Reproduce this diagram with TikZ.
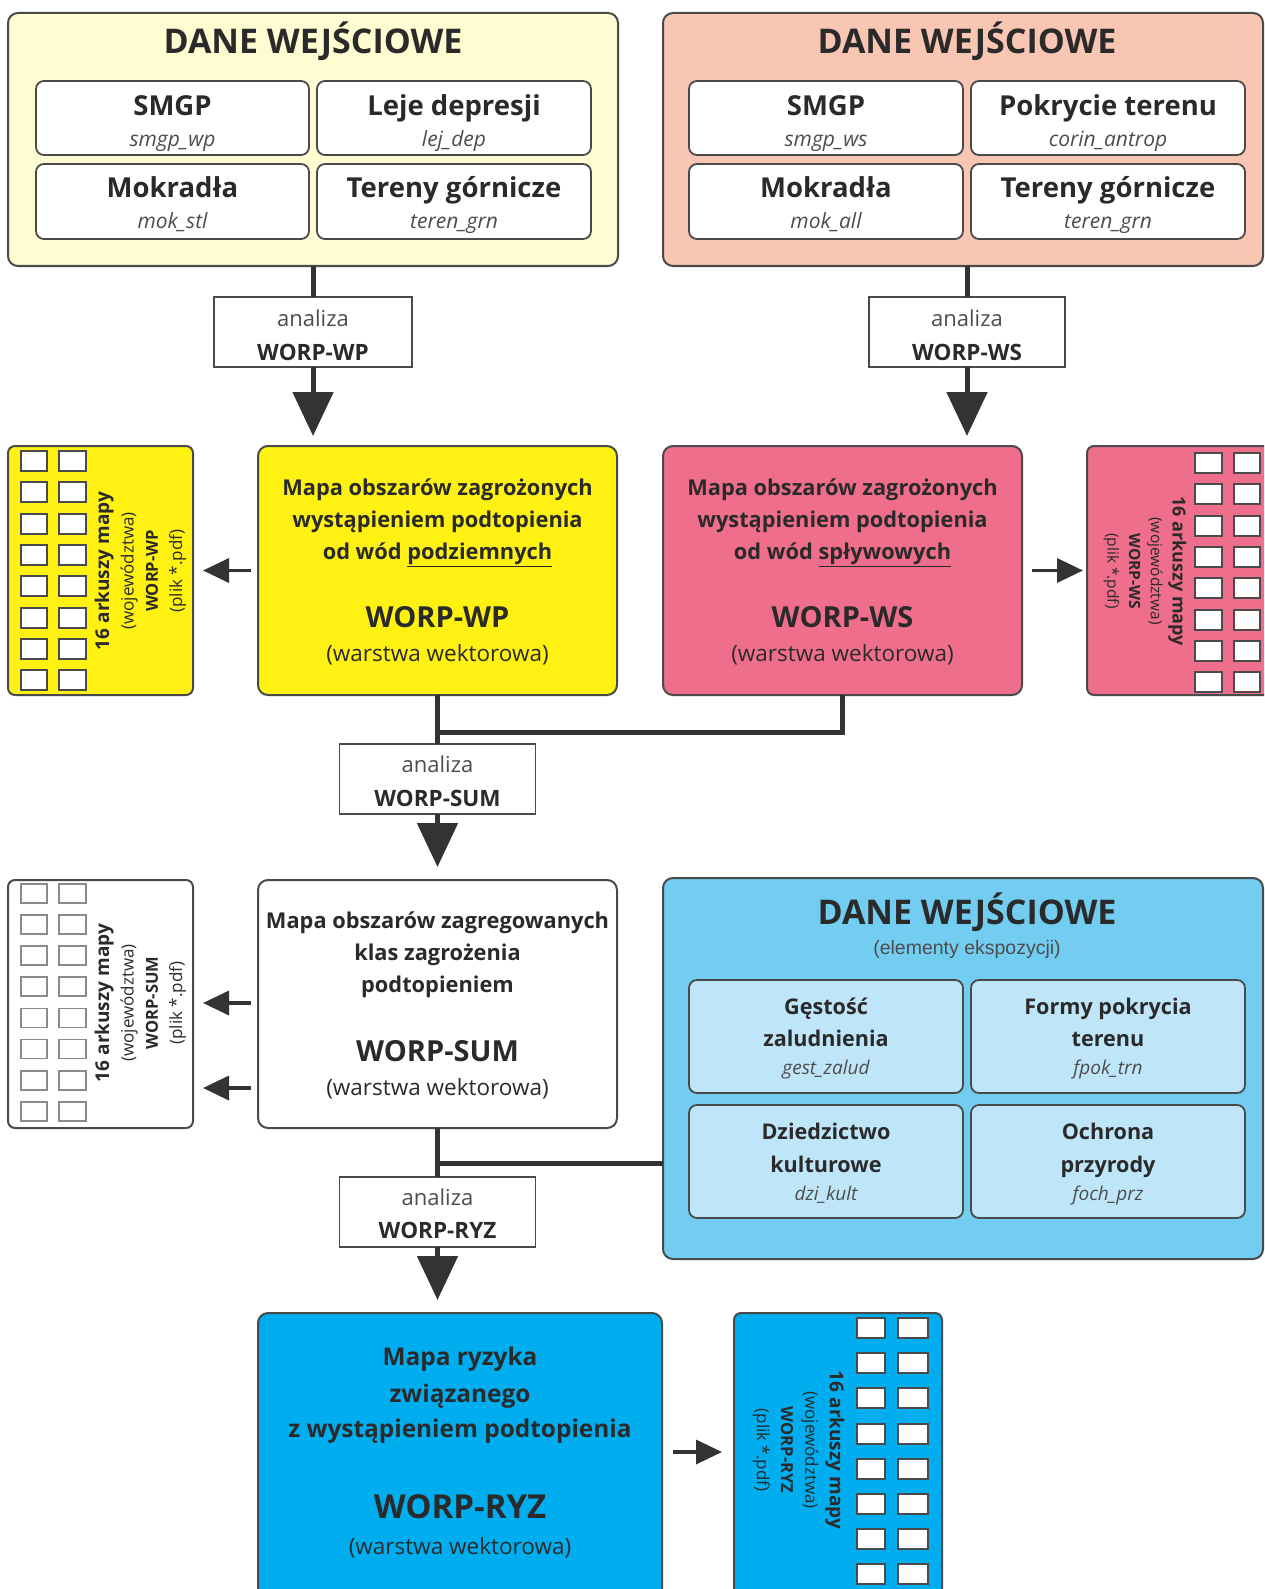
\documentclass[tikz,border=0pt]{standalone}
\usepackage{fontspec}
\setmainfont{Open Sans}
\newfontfamily\arialf{Liberation Sans}
\usetikzlibrary{arrows.meta}
\definecolor{bordc}{HTML}{4A4A4A}
\definecolor{lnc}{HTML}{333333}
\definecolor{ltyel}{HTML}{FFFCD2}
\definecolor{salmon}{HTML}{F9C6B3}
\definecolor{yel}{HTML}{FFF212}
\definecolor{pinkc}{HTML}{EF6E8B}
\definecolor{ltblue}{HTML}{72CDF1}
\definecolor{cellblue}{HTML}{BFE6F8}
\definecolor{ryzblue}{HTML}{00AEEF}
\definecolor{txt}{HTML}{2A2A2A}
\definecolor{subc}{HTML}{4D4D4D}
\definecolor{sqgray}{HTML}{8A8A8A}
\tikzset{
  panel/.style={draw=bordc,line width=2pt,rounded corners=10pt,inner sep=0pt,outer sep=0pt,anchor=north west},
  cellbox/.style={panel,rounded corners=8pt,line width=1.8pt},
  anbox/.style={draw=bordc,line width=1.6pt,fill=white,inner sep=0pt,outer sep=0pt,anchor=north west},
  sheetbox/.style={panel,rounded corners=7pt},
  sq/.style={draw=bordc,line width=2pt,fill=white},
  sqg/.style={draw=sqgray,line width=1.8pt,fill=white},
  tx/.style={anchor=mid,inner sep=0pt,text=txt},
  ftitle/.style={tx,yshift=-10pt,font=\fontsize{34}{38}\selectfont\bfseries},
  fcell/.style={tx,yshift=-8pt,font=\fontsize{27.5}{30}\selectfont\bfseries},
  fcellb/.style={tx,yshift=-6.5pt,font=\fontsize{21.6}{26}\selectfont\bfseries},
  fsub/.style={tx,yshift=-6pt,text=subc,font=\fontsize{21}{24}\selectfont\itshape},
  fsubb/.style={tx,yshift=-5.5pt,text=subc,font=\fontsize{19}{22}\selectfont\itshape},
  fan/.style={tx,yshift=-6pt,text=subc,font=\fontsize{22}{26}\selectfont},
  fanb/.style={tx,yshift=-6.5pt,font=\fontsize{22.5}{26}\selectfont\bfseries},
  fmain/.style={tx,yshift=-6.5pt,font=\fontsize{21.8}{26}\selectfont\bfseries},
  fbig/.style={tx,yshift=-8.5pt,font=\fontsize{29}{34}\selectfont\bfseries},
  fwarst/.style={tx,yshift=-6pt,font=\fontsize{22.5}{26}\selectfont},
  fryz/.style={tx,yshift=-7pt,font=\fontsize{24.4}{28}\selectfont\bfseries},
  fryzbig/.style={tx,yshift=-10pt,font=\fontsize{33}{38}\selectfont\bfseries},
  fsheet/.style={inner sep=0pt,text=txt,align=center,font=\fontsize{17}{24.3}\selectfont},
  conn/.style={draw=lnc,line width=5pt},
  bigarrow/.style={conn,-{Triangle[width=40pt,length=44pt]}},
  smallarrow/.style={draw=lnc,line width=3.5pt,-{Triangle[width=24pt,length=26pt]}}
}
\newcommand\sheethead{\fontsize{19}{24.3}\selectfont\bfseries}
\newcommand\sheetworp{\fontsize{16.5}{24.3}\selectfont\bfseries}
\begin{document}
\begin{tikzpicture}[x=1pt,y=-1pt]
\useasboundingbox (0,0) rectangle (1264,1589);
\fill[white] (0,0) rectangle (1264,1589);
\clip (0,0) rectangle (1264,1589);

% ---------- top-left input panel ----------
\node[panel,fill=ltyel,minimum width=610pt,minimum height=253pt] (inWP) at (8,13) {};
\node[ftitle] (tWP) at (313,41) {DANE WEJŚCIOWE};
\node[cellbox,fill=white,minimum width=273pt,minimum height=74pt] (c1) at (36,81) {};
\node[cellbox,fill=white,minimum width=274pt,minimum height=74pt] (c2) at (317,81) {};
\node[cellbox,fill=white,minimum width=273pt,minimum height=75pt] (c3) at (36,164) {};
\node[cellbox,fill=white,minimum width=274pt,minimum height=75pt] (c4) at (317,164) {};
\node[fcell] (c1a) at (172.5,105) {SMGP};
\node[fsub]  (c1b) at (172.5,138) {smgp\_wp};
\node[fcell] (c2a) at (454,105) {Leje depresji};
\node[fsub]  (c2b) at (454,138) {lej\_dep};
\node[fcell] (c3a) at (172.5,187) {Mokradła};
\node[fsub]  (c3b) at (172.5,220) {mok\_stl};
\node[fcell] (c4a) at (454,187) {Tereny górnicze};
\node[fsub]  (c4b) at (454,220) {teren\_grn};

% ---------- top-right input panel ----------
\node[panel,fill=salmon,minimum width=600pt,minimum height=253pt] (inWS) at (663,13) {};
\node[ftitle] (tWS) at (967,41) {DANE WEJŚCIOWE};
\node[cellbox,fill=white,minimum width=274pt,minimum height=74pt] (d1) at (689,81) {};
\node[cellbox,fill=white,minimum width=274pt,minimum height=74pt] (d2) at (971,81) {};
\node[cellbox,fill=white,minimum width=274pt,minimum height=75pt] (d3) at (689,164) {};
\node[cellbox,fill=white,minimum width=274pt,minimum height=75pt] (d4) at (971,164) {};
\node[fcell] (d1a) at (826,105) {SMGP};
\node[fsub]  (d1b) at (826,138) {smgp\_ws};
\node[fcell] (d2a) at (1108,105) {Pokrycie terenu};
\node[fsub]  (d2b) at (1108,138) {corin\_antrop};
\node[fcell] (d3a) at (826,187) {Mokradła};
\node[fsub]  (d3b) at (826,220) {mok\_all};
\node[fcell] (d4a) at (1108,187) {Tereny górnicze};
\node[fsub]  (d4b) at (1108,220) {teren\_grn};

% ---------- analysis boxes (top) ----------
\node[anbox,minimum width=198pt,minimum height=70pt] (anWP) at (214,297) {};
\node[fan]  (anWPa) at (313,318) {analiza};
\node[fanb] (anWPb) at (313,351) {WORP-WP};
\node[anbox,minimum width=196pt,minimum height=70pt] (anWS) at (869,297) {};
\node[fan]  (anWSa) at (967,318) {analiza};
\node[fanb] (anWSb) at (967,351) {WORP-WS};

% ---------- WORP-WP ----------
\node[panel,fill=yel,minimum width=359pt,minimum height=249pt] (wp) at (258,446) {};
\node[fmain] (wp1) at (437.5,486) {Mapa obszarów zagrożonych};
\node[fmain] (wp2) at (437.5,518) {wystąpieniem podtopienia};
\node[fmain] (wp3) at (437.5,550) {od wód \underline{podziemnych}};
\node[fbig]  (wp4) at (437.5,616) {WORP-WP};
\node[fwarst] (wp5) at (437.5,653) {(warstwa wektorowa)};

\node[sheetbox,fill=yel,minimum width=185pt,minimum height=249pt] (shWP) at (8,446) {};
\foreach \k in {0,...,7}{
  \draw[sq] (21,{451+31.3*\k}) rectangle ++(26,20);
  \draw[sq] (59,{451+31.3*\k}) rectangle ++(27,20);
}
\node[fsheet,rotate=90] (shWPt) at (140.5,571) {{\sheethead 16 arkuszy mapy}\\(województwa)\\{\sheetworp WORP-WP}\\(plik *.pdf)};

% ---------- WORP-WS ----------
\node[panel,fill=pinkc,minimum width=359pt,minimum height=249pt] (ws) at (663,446) {};
\node[fmain] (ws1) at (842.5,486) {Mapa obszarów zagrożonych};
\node[fmain] (ws2) at (842.5,518) {wystąpieniem podtopienia};
\node[fmain] (ws3) at (842.5,550) {od wód \underline{spływowych}};
\node[fbig]  (ws4) at (842.5,616) {WORP-WS};
\node[fwarst] (ws5) at (842.5,653) {(warstwa wektorowa)};

\node[sheetbox,fill=pinkc,minimum width=190pt,minimum height=249pt] (shWS) at (1087,446) {};
\foreach \k in {0,...,7}{
  \draw[sq] (1195,{453+31.3*\k}) rectangle ++(27,20);
  \draw[sq] (1234,{453+31.3*\k}) rectangle ++(26,20);
}
\node[fsheet,rotate=-90,font=\fontsize{15.5}{21.7}\selectfont] (shWSt) at (1145,571) {{\fontsize{18}{21.7}\selectfont\bfseries 16 arkuszy mapy}\\(województwa)\\{\fontsize{15.5}{21.7}\selectfont\bfseries WORP-WS}\\(plik *.pdf)};

% ---------- WORP-SUM ----------
\node[anbox,minimum width=196pt,minimum height=70pt] (anSUM) at (339.5,744) {};
\node[fan]  (anSUMa) at (437.5,764) {analiza};
\node[fanb] (anSUMb) at (437.5,797) {WORP-SUM};

\node[panel,fill=white,minimum width=359pt,minimum height=248pt] (sum) at (258,880) {};
\node[fmain] (sum1) at (437.5,919) {Mapa obszarów zagregowanych};
\node[fmain] (sum2) at (437.5,951) {klas zagrożenia};
\node[fmain] (sum3) at (437.5,983) {podtopieniem};
\node[fbig]  (sum4) at (437.5,1050) {WORP-SUM};
\node[fwarst] (sum5) at (437.5,1087) {(warstwa wektorowa)};

\node[sheetbox,fill=white,minimum width=185pt,minimum height=248pt] (shSUM) at (8,880) {};
\foreach \k in {0,...,7}{
  \draw[sqg] (21,{884+31.1*\k}) rectangle ++(26,19);
  \draw[sqg] (59,{884+31.1*\k}) rectangle ++(27,19);
}
\node[fsheet,rotate=90] (shSUMt) at (140.5,1003) {{\sheethead 16 arkuszy mapy}\\(województwa)\\{\sheetworp WORP-SUM}\\(plik *.pdf)};

% ---------- blue input panel ----------
\node[panel,fill=ltblue,minimum width=600pt,minimum height=381pt] (inRYZ) at (663,878) {};
\node[ftitle] (tRYZ) at (967,912) {DANE WEJŚCIOWE};
\node[tx,yshift=-3pt,text=subc,font=\arialf\fontsize{19.5}{22}\selectfont] (tRYZs) at (967,949) {(elementy ekspozycji)};
\node[cellbox,fill=cellblue,minimum width=274pt,minimum height=113pt] (e1) at (689,980) {};
\node[cellbox,fill=cellblue,minimum width=274pt,minimum height=113pt] (e2) at (971,980) {};
\node[cellbox,fill=cellblue,minimum width=274pt,minimum height=113pt] (e3) at (689,1105) {};
\node[cellbox,fill=cellblue,minimum width=274pt,minimum height=113pt] (e4) at (971,1105) {};
\node[fcellb] (e1a) at (826,1005) {Gęstość};
\node[fcellb] (e1b) at (826,1037) {zaludnienia};
\node[fsubb]  (e1c) at (826,1066) {gest\_zalud};
\node[fcellb] (e2a) at (1108,1005) {Formy pokrycia};
\node[fcellb] (e2b) at (1108,1037) {terenu};
\node[fsubb]  (e2c) at (1108,1066) {fpok\_trn};
\node[fcellb] (e3a) at (826,1130) {Dziedzictwo};
\node[fcellb] (e3b) at (826,1163) {kulturowe};
\node[fsubb]  (e3c) at (826,1192) {dzi\_kult};
\node[fcellb] (e4a) at (1108,1130) {Ochrona};
\node[fcellb] (e4b) at (1108,1163) {przyrody};
\node[fsubb]  (e4c) at (1108,1192) {foch\_prz};

% ---------- WORP-RYZ ----------
\node[anbox,minimum width=196pt,minimum height=70pt] (anRYZ) at (339.5,1177) {};
\node[fan]  (anRYZa) at (437.5,1197) {analiza};
\node[fanb] (anRYZb) at (437.5,1229) {WORP-RYZ};

\node[panel,fill=ryzblue,minimum width=404pt,minimum height=300pt] (ryz) at (258,1313) {};
\node[fryz] (ryz1) at (460,1356) {Mapa ryzyka};
\node[fryz] (ryz2) at (460,1393) {związanego};
\node[fryz] (ryz3) at (460,1428) {z wystąpieniem podtopienia};
\node[fryzbig] (ryz4) at (460,1506) {WORP-RYZ};
\node[fwarst] (ryz5) at (460,1546) {(warstwa wektorowa)};

\node[sheetbox,fill=ryzblue,minimum width=208pt,minimum height=300pt] (shRYZ) at (734,1313) {};
\foreach \k in {0,...,7}{
  \draw[sq] (857,{1318+35.2*\k}) rectangle ++(28,20);
  \draw[sq] (898,{1318+35.2*\k}) rectangle ++(30,20);
}
\node[fsheet,rotate=-90] (shRYZt) at (798.5,1450) {{\sheethead 16 arkuszy mapy}\\(województwa)\\{\sheetworp WORP-RYZ}\\(plik *.pdf)};

% ---------- connectors ----------
\draw[conn] (inWP.south) -- (anWP.north);
\draw[bigarrow,shorten >=10pt] (anWP.south) -- (anWP.south |- wp.north);
\draw[conn] (inWS.south -| anWS.north) -- (anWS.north);
\draw[bigarrow,shorten >=10pt] (anWS.south) -- (anWS.south |- ws.north);

\coordinate (j1) at (437.5,732);
\draw[conn] (wp.south) -- (j1) -| (ws.south);
\draw[conn] (j1) -- (anSUM.north);
\draw[bigarrow,shorten >=13pt] (anSUM.south) -- (sum.north);

\draw[smallarrow,shorten <=7pt,shorten >=10pt] (wp.west) -- (shWP.east);
\draw[smallarrow,shorten <=10pt,shorten >=4pt] (ws.east) -- (shWS.west);

\coordinate (ya) at (0,1003);
\coordinate (yb) at (0,1088);
\draw[smallarrow,shorten <=7pt,shorten >=10pt] (sum.west |- ya) -- (shSUM.east |- ya);
\draw[smallarrow,shorten <=7pt,shorten >=10pt] (sum.west |- yb) -- (shSUM.east |- yb);

\coordinate (j2) at (437.5,1163);
\draw[conn] (sum.south) -- (j2);
\draw[conn] (inRYZ.west |- j2) -- (j2);
\draw[conn] (j2) -- (anRYZ.north);
\draw[bigarrow,shorten >=13pt] (anRYZ.south) -- (anRYZ.south |- ryz.north);

\coordinate (yc) at (0,1452);
\draw[smallarrow,shorten <=11pt,shorten >=12pt] (ryz.east |- yc) -- (shRYZ.west |- yc);
\end{tikzpicture}
\end{document}
